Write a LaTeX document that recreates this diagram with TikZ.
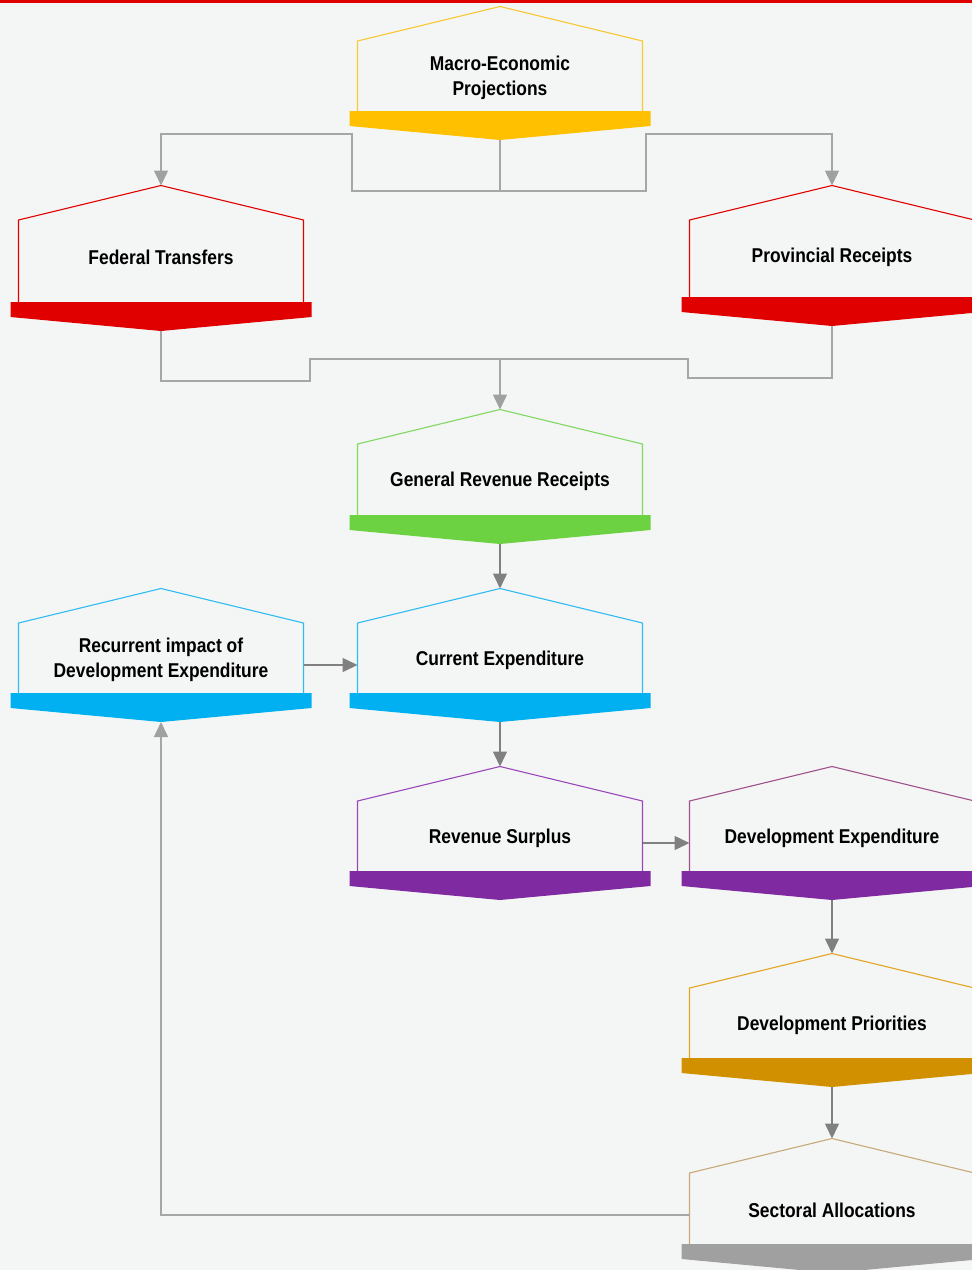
\documentclass[tikz,border=0pt]{standalone}
\usepackage{fontspec}
\setmainfont{Liberation Sans}[FakeStretch=0.87]
\usetikzlibrary{arrows.meta}

\definecolor{pagebg}{HTML}{F4F6F5}
\definecolor{topred}{HTML}{E00000}
\definecolor{macroline}{HTML}{F8C830}
\definecolor{macroband}{HTML}{FFC000}
\definecolor{redband}{HTML}{E00000}
\definecolor{greenline}{HTML}{80D860}
\definecolor{greenband}{HTML}{6CD242}
\definecolor{blueline}{HTML}{30BCF0}
\definecolor{blueband}{HTML}{00B0F0}
\definecolor{purpleline}{HTML}{9A48B8}
\definecolor{plumline}{HTML}{A0508A}
\definecolor{purpleband}{HTML}{7F2AA0}
\definecolor{goldline}{HTML}{E2A520}
\definecolor{goldband}{HTML}{D09000}
\definecolor{tanline}{HTML}{C8A878}
\definecolor{greyband}{HTML}{A0A0A0}
\definecolor{linkgrey}{HTML}{A6A6A6}
\definecolor{flowgrey}{HTML}{808080}

\tikzset{
  outline/.style={line width=1.1pt},
  housetext/.style={align=center, inner sep=0pt,
    font=\bfseries\fontsize{20}{25}\selectfont},
  link/.style={draw=linkgrey, line width=1.5pt,
    -{Triangle[length=15pt,width=14pt,fill=greyband,color=greyband]}},
  linkline/.style={draw=linkgrey, line width=1.5pt},
  flow/.style={draw=flowgrey, line width=1.5pt,
    -{Triangle[length=15pt,width=14pt]}},
}

% house-shaped box with a chevron band at its foot
% #1 name, #2 centre x, #3 shoulder y, #4 band top y, #5 outline colour, #6 band colour, #7 text
\newcommand{\housenode}[7]{%
  \fill[#6] (#2-150.5,#4) -- (#2+150.5,#4) -- (#2+150.5,#4+15)
    -- (#2,#4+29) -- (#2-150.5,#4+15) -- cycle;
  \draw[#5, outline] (#2-142.5,#4) -- (#2-142.5,#3) -- (#2,#3-34.5)
    -- (#2+142.5,#3) -- (#2+142.5,#4);
  \node[housetext] (#1) at (#2,#3+37) {#7};
  \coordinate (#1-apex) at (#2,#3-34.5);
  \coordinate (#1-tip) at (#2,#4+29);
  \coordinate (#1-w) at (#2-142.5,#3+42);
  \coordinate (#1-e) at (#2+142.5,#3+42);
}

\begin{document}
\begin{tikzpicture}[x=1pt, y=-1pt]
  \useasboundingbox (0,0) rectangle (972,1270);
  \fill[pagebg] (0,0) rectangle (972,1270);
  \fill[topred] (0,0) rectangle (972,3);

  \housenode{mep}{500}{41}{111}{macroline}{macroband}{Macro-Economic\\Projections}
  \housenode{fed}{161}{220}{302}{redband}{redband}{Federal Transfers}
  \housenode{prv}{832}{220}{297}{redband}{redband}{Provincial Receipts}
  \housenode{grr}{500}{444}{515}{greenline}{greenband}{General Revenue Receipts}
  \housenode{rec}{161}{623}{693}{blueline}{blueband}{Recurrent impact of\\Development Expenditure}
  \housenode{cur}{500}{623}{693}{blueline}{blueband}{Current Expenditure}
  \housenode{rsu}{500}{801}{871}{purpleline}{purpleband}{Revenue Surplus}
  \housenode{dex}{832}{801}{871}{plumline}{purpleband}{Development Expenditure}
  \housenode{dpr}{832}{988}{1058}{goldline}{goldband}{Development Priorities}
  \housenode{sal}{832}{1173}{1244}{tanline}{greyband}{Sectoral Allocations}

  % split from the projections into the two receipt streams
  \coordinate (split) at (500,191);
  \draw[linkline] (mep-tip) -- (split);
  \draw[link] (split) -| (352,134) -| (fed-apex);
  \draw[link] (split) -| (646,134) -| (prv-apex);

  % both receipt streams join into general revenue
  \coordinate (join) at (500,359);
  \draw[link] (fed-tip) -- (161,381) -| (310,359) -| (grr-apex);
  \draw[linkline] (prv-tip) -- (832,378) -| (688,359) -- (join);

  % main flow
  \draw[flow] (grr-tip) -- (cur-apex);
  \draw[flow] (rec-e) -- (cur-w);
  \draw[flow] (cur-tip) -- (rsu-apex);
  \draw[flow] (rsu-e) -- (dex-w);
  \draw[flow] (dex-tip) -- (dpr-apex);
  \draw[flow] (dpr-tip) -- (sal-apex);

  % feedback from sectoral allocations
  \draw[link] (sal-w) -| (rec-tip);
\end{tikzpicture}
\end{document}
